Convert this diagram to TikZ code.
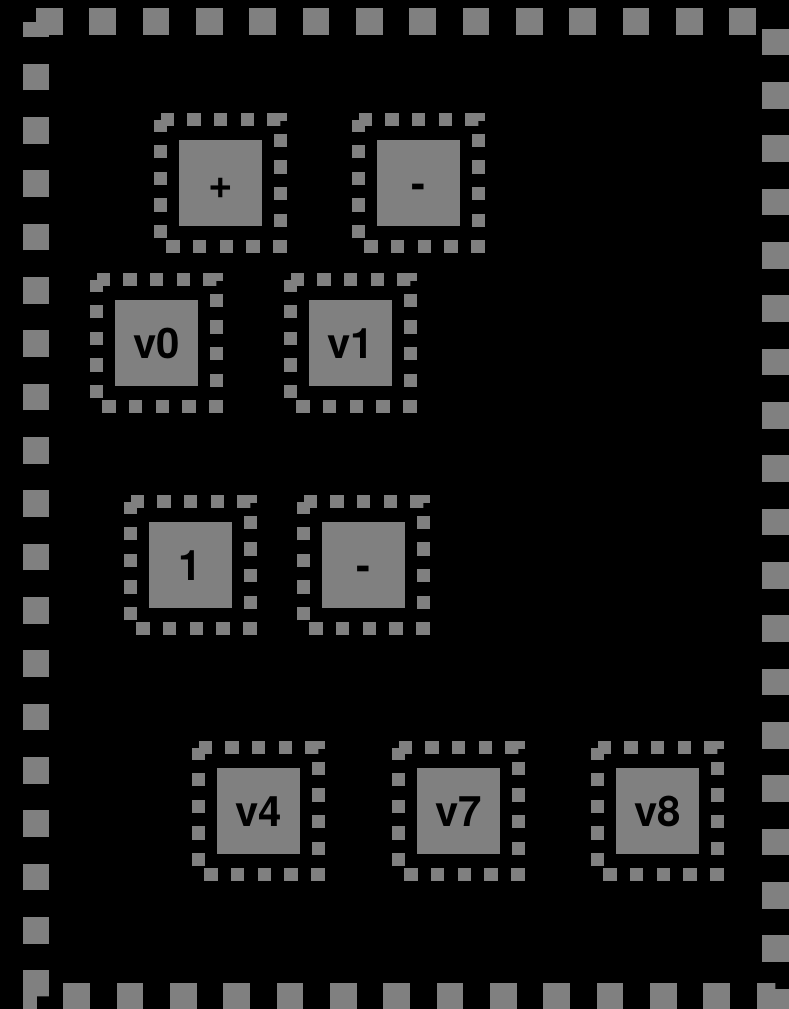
\documentclass[tikz,border=0pt]{standalone}
\usepackage{fontspec}
\setmainfont{TeX Gyre Heros}
\usetikzlibrary{calc}
\definecolor{grayc}{RGB}{128,128,128}
\tikzset{
  vbox/.style={fill=grayc, draw=none, minimum width=83pt, minimum height=86pt, inner sep=0pt,
    text=black, font=\fontsize{42}{50}\selectfont\bfseries, text height=30pt, text depth=0pt, anchor=center},
  outl/.style={draw=grayc, line width=13.35pt, dash pattern=on 13.333pt off 13.333pt},
  outerbox/.style={draw=grayc, line width=26.7pt, dash pattern=on 26.667pt off 26.667pt}
}
\newcommand{\ringbox}[1]{\draw[outl] ($(#1)+(-59.75,-63.25)$) -- ($(#1)+(59.75,-63.25)$) -- ($(#1)+(59.75,63.25)$) -- ($(#1)+(-59.75,63.25)$) -- cycle;}
\begin{document}
\begin{tikzpicture}[x=1pt,y=-1pt]
\useasboundingbox (0,0) rectangle (789,1009);
\fill[black] (0,0) rectangle (789,1009);
\coordinate (otl) at (36,21.5);
\coordinate (otr) at (775.5,21.5);
\coordinate (obr) at (775.5,996.5);
\coordinate (obl) at (36,996.5);
\draw[outerbox] (otl) -- (otr) -- (obr) -- (obl) -- cycle;
\node[vbox] (plus) at (220.5,183) {+};
\node[vbox] (minusA) at (418.5,183) {-};
\node[vbox] (v0) at (156.5,343) {v0};
\node[vbox] (v1) at (350.5,343) {v1};
\node[vbox] (one) at (190.5,565) {1};
\node[vbox] (minusB) at (363.5,565) {-};
\node[vbox] (v4) at (258.5,811) {v4};
\node[vbox] (v7) at (458.5,811) {v7};
\node[vbox] (v8) at (657.5,811) {v8};
\foreach \n in {plus,minusA,v0,v1,one,minusB,v4,v7,v8}{\ringbox{\n}}
\end{tikzpicture}
\end{document}
